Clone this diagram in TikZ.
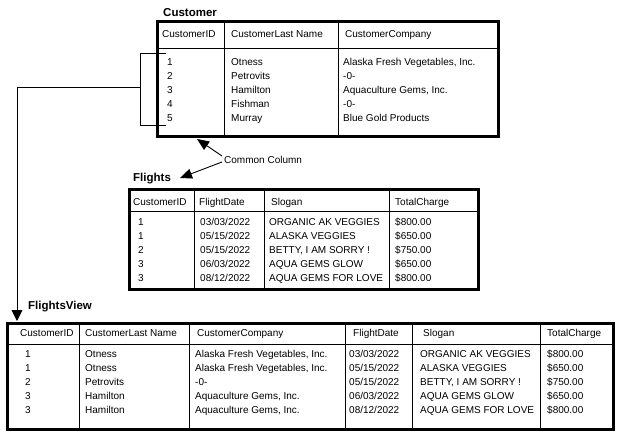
\documentclass[tikz,border=0pt]{standalone}
\usepackage{fontspec}
\setmainfont{Liberation Sans}
\usetikzlibrary{arrows.meta}
\begin{document}
\begin{tikzpicture}[x=1pt,y=-1pt,
  txt/.style={anchor=base west, inner sep=0pt, font=\fontsize{10}{12}\selectfont},
  lbl/.style={anchor=base west, inner sep=0pt, font=\fontsize{11.5}{13}\selectfont\bfseries},
  tbl/.style={draw, line width=3pt, inner sep=0pt, anchor=north west},
  gridline/.style={line width=0.9pt},
  conn/.style={line width=0.9pt},
  tipconn/.style={conn, -{Triangle[length=12pt,width=10pt]}}]
\useasboundingbox (0,0) rectangle (620,438);

% ---------------- Customer ----------------
\node[lbl] (custlbl) at (163,16.1) {Customer};
\node[tbl, minimum width=341.5pt, minimum height=114.5pt] (cust) at (155.5,20.5) {};
\draw[gridline] (155.5,48) -- (497,48);
\draw[gridline] (224,20.5) -- (224,135);
\draw[gridline] (338,20.5) -- (338,135);
\node[txt] (ch1) at (162,37.1) {CustomerID};
\node[txt] (ch2) at (231,37.1) {CustomerLast Name};
\node[txt] (ch3) at (345,37.1) {CustomerCompany};
\foreach \i/\id/\nm/\co in {0/1/Otness/{Alaska Fresh Vegetables, Inc.},
  1/2/Petrovits/{-0-}, 2/3/Hamilton/{Aquaculture Gems, Inc.},
  3/4/Fishman/{-0-}, 4/5/Murray/{Blue Gold Products}}{
  \node[txt] (cid\i) at (167,65.6+14*\i) {\id};
  \node[txt] (cnm\i) at (231,65.6+14*\i) {\nm};
  \node[txt] (cco\i) at (343,65.6+14*\i) {\co};
}

% bracket and connector to FlightsView
\coordinate (bt) at (166,53);
\coordinate (bb) at (166,125);
\coordinate (bm) at (140,87);
\coordinate (fvtip) at (17,321);
\draw[conn] (bt) -- (bt -| bm) -- (bb -| bm) -- (bb);
\draw[conn, -{Triangle[length=11pt,width=11pt]}] (bm) -| (fvtip);

% ---------------- Common Column ----------------
\node[txt] (cc) at (224,163.6) {Common Column};
\coordinate (cca) at (222,156);
\coordinate (ccb) at (222,162);
\coordinate (tipa) at (197,139);
\coordinate (tipb) at (180,178);
\draw[tipconn] (cca) -- (tipa);
\draw[tipconn] (ccb) -- (tipb);

% ---------------- Flights ----------------
\node[lbl] (fllbl) at (133,181.1) {Flights};
\node[tbl, minimum width=349pt, minimum height=99.5pt] (fl) at (127.5,188.5) {};
\draw[gridline] (127.5,211) -- (476.5,211);
\foreach \x in {194,264,389}{\draw[gridline] (\x,188.5) -- (\x,288);}
\node[txt] (fh1) at (133,205.2) {CustomerID};
\node[txt] (fh2) at (199,205.2) {FlightDate};
\node[txt] (fh3) at (271,205.2) {Slogan};
\node[txt] (fh4) at (395,205.2) {TotalCharge};
\foreach \i/\id/\dt/\sl/\ch in {0/1/03\slash 03\slash 2022/ORGANIC AK VEGGIES/\$800.00,
  1/1/05\slash 15\slash 2022/ALASKA VEGGIES/\$650.00,
  2/2/05\slash 15\slash 2022/{BETTY, I AM SORRY !}/\$750.00,
  3/3/06\slash 03\slash 2022/AQUA GEMS GLOW/\$650.00,
  4/3/08\slash 12\slash 2022/AQUA GEMS FOR LOVE/\$800.00}{
  \node[txt] (fid\i) at (138,225.6+14*\i) {\id};
  \node[txt] (fdt\i) at (200,225.6+14*\i) {\dt};
  \node[txt] (fsl\i) at (269,225.6+14*\i) {\sl};
  \node[txt] (fch\i) at (395,225.6+14*\i) {\ch};
}

% ---------------- FlightsView ----------------
\node[lbl] (fvlbl) at (28,309.1) {FlightsView};
\node[tbl, minimum width=605.5pt, minimum height=106pt] (fv) at (6,322) {};
\draw[gridline] (6,344) -- (611.5,344);
\foreach \x in {79,189,345,412,540}{\draw[gridline] (\x,322) -- (\x,428);}
\node[txt] (vh1) at (20,336.6) {CustomerID};
\node[txt] (vh2) at (85,336.6) {CustomerLast Name};
\node[txt] (vh3) at (197,336.6) {CustomerCompany};
\node[txt] (vh4) at (353,336.6) {FlightDate};
\node[txt] (vh5) at (423,336.6) {Slogan};
\node[txt] (vh6) at (547,336.6) {TotalCharge};
\foreach \i/\id/\nm/\co/\dt/\sl/\ch in {
  0/1/Otness/{Alaska Fresh Vegetables, Inc.}/03\slash 03\slash 2022/ORGANIC AK VEGGIES/\$800.00,
  1/1/Otness/{Alaska Fresh Vegetables, Inc.}/05\slash 15\slash 2022/ALASKA VEGGIES/\$650.00,
  2/2/Petrovits/{-0-}/05\slash 15\slash 2022/{BETTY, I AM SORRY !}/\$750.00,
  3/3/Hamilton/{Aquaculture Gems, Inc.}/06\slash 03\slash 2022/AQUA GEMS GLOW/\$650.00,
  4/3/Hamilton/{Aquaculture Gems, Inc.}/08\slash 12\slash 2022/AQUA GEMS FOR LOVE/\$800.00}{
  \node[txt] (vid\i) at (25,357.6+14*\i) {\id};
  \node[txt] (vnm\i) at (85,357.6+14*\i) {\nm};
  \node[txt] (vco\i) at (195,357.6+14*\i) {\co};
  \node[txt] (vdt\i) at (349,357.6+14*\i) {\dt};
  \node[txt] (vsl\i) at (420,357.6+14*\i) {\sl};
  \node[txt] (vch\i) at (547,357.6+14*\i) {\ch};
}
\end{tikzpicture}
\end{document}
